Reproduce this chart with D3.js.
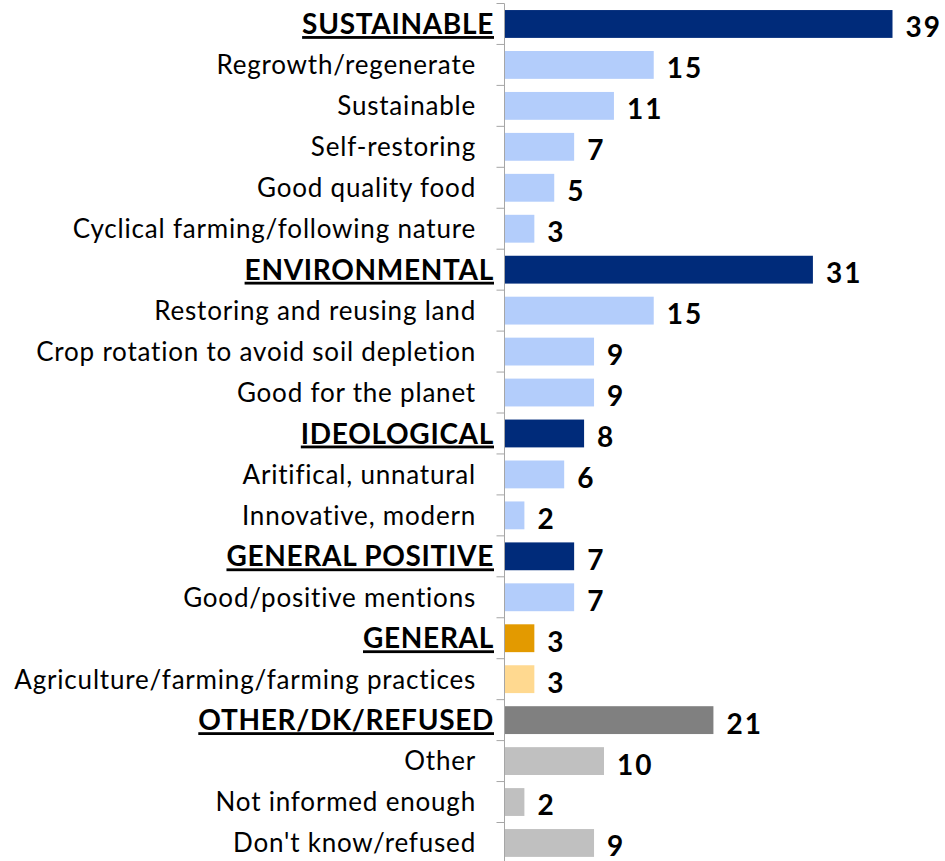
<!DOCTYPE html>
<html><head><meta charset="utf-8">
<script src="https://cdn.jsdelivr.net/npm/d3@7/dist/d3.min.js"></script>
<style>
body{margin:0;background:#fff;}
svg{display:block;}
</style></head>
<body>
<script>
const categories = [
  "SUSTAINABLE","Regrowth/regenerate","Sustainable","Self-restoring","Good quality food","Cyclical farming/following nature",
  "ENVIRONMENTAL","Restoring and reusing land","Crop rotation to avoid soil depletion","Good for the planet",
  "IDEOLOGICAL","Aritifical, unnatural","Innovative, modern",
  "GENERAL POSITIVE","Good/positive mentions",
  "GENERAL","Agriculture/farming/farming practices",
  "OTHER/DK/REFUSED","Other","Not informed enough","Don't know/refused"
];
const values = [39,15,11,7,5,3, 31,15,9,9, 8,6,2, 7,7, 3,3, 21,10,2,9];
const isHeader = [1,0,0,0,0,0, 1,0,0,0, 1,0,0, 1,0, 1,0, 1,0,0,0];
const groups = ["blue","blue","blue","blue","blue","blue","blue","blue","blue","blue","blue","blue","blue","blue","blue","orange","orange","gray","gray","gray","gray"];

const palette = {
  blue:   {header:"#002B7A", sub:"#B3CDFB"},
  orange: {header:"#E39A00", sub:"#FFD990"},
  gray:   {header:"#808080", sub:"#C0C0C0"}
};

const W = 945, H = 861;
const axisX = 504.5;
const svg = d3.select("body").append("svg").attr("width", W).attr("height", H);

const x = d3.scaleLinear().domain([0, 39]).range([axisX, 892.5]);
const y = d3.scaleBand().domain(d3.range(categories.length)).range([3.5, 3.5 + 40.95*categories.length]).paddingInner(0.32).paddingOuter(0.16);

const data = categories.map((c,i)=>({c, v:values[i], h:isHeader[i], g:groups[i], i}));

// bars
svg.append("g").selectAll("rect").data(data).join("rect")
  .attr("x", x(0))
  .attr("y", d=>y(d.i))
  .attr("width", d=>x(d.v)-x(0))
  .attr("height", y.bandwidth())
  .attr("fill", d=>palette[d.g][d.h ? "header" : "sub"]);

// axis line and ticks at band boundaries
const step = y.step();
const ax = svg.append("g");
ax.append("line").attr("x1",axisX).attr("x2",axisX).attr("y1",3.5).attr("y2",H)
  .attr("stroke","#A6A6A6").attr("stroke-width",1);
ax.selectAll("line.tk").data(d3.range(categories.length+1)).join("line").attr("class","tk")
  .attr("x1",axisX-8).attr("x2",axisX)
  .attr("y1",i=>3.5+i*step).attr("y2",i=>3.5+i*step)
  .attr("stroke","#A6A6A6").attr("stroke-width",1);

// category labels
svg.append("g").selectAll("text").data(data).join("text")
  .attr("x", d=> d.h ? 494 : 476)
  .attr("y", d=>y(d.i)+y.bandwidth()/2)
  .attr("dy","0.36em")
  .attr("text-anchor","end")
  .attr("font-family","Lato, 'Open Sans', sans-serif")
  .attr("font-size", d=> d.h ? 28 : 26)
  .attr("font-weight", d=> d.h ? 700 : 400)
  .style("letter-spacing", d=> d.h ? "0.7px" : "0.8px")
  .style("text-decoration", d=> d.h ? "underline" : "none")
  .attr("fill","#000")
  .text(d=>d.c);

// value labels
svg.append("g").selectAll("text").data(data).join("text")
  .attr("x", d=>x(d.v)+13)
  .attr("y", d=>y(d.i)+y.bandwidth()/2)
  .attr("dy","0.48em")
  .attr("font-family","Lato, 'Open Sans', sans-serif")
  .attr("font-size", 28)
  .attr("font-weight", 700)
  .style("letter-spacing","2px")
  .attr("fill","#000")
  .text(d=>d.v);
</script>
</body></html>
